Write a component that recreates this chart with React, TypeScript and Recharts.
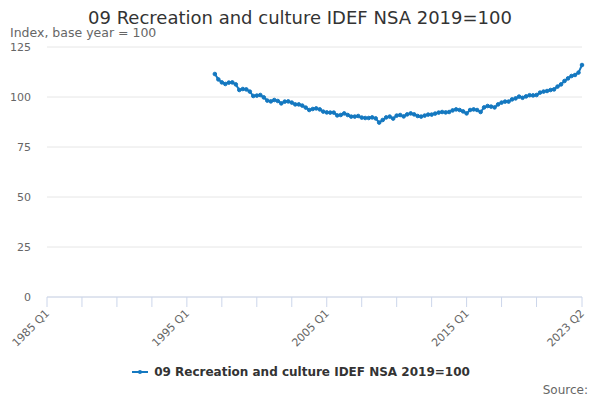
import React from 'react';
import { LineChart, Line, XAxis, YAxis, CartesianGrid } from 'recharts';

const FIRST_YEAR = 1985;
const LAST_YEAR = 2023;
const LAST_QUARTER = 2;

// quarter labels, 1985 Q1 .. 2023 Q2
const quarters: string[] = [];
for (let y = FIRST_YEAR; y <= LAST_YEAR; y++) {
  for (let q = 1; q <= 4; q++) {
    if (y === LAST_YEAR && q > LAST_QUARTER) break;
    quarters.push(`${y} Q${q}`);
  }
}

// series starts at 1997 Q1
const seriesStart = '1997 Q1';
const indexValues = [
  111.5, 108.8, 107.3, 106.5,
  107.2, 107.3, 106.3, 103.5,
  104.0, 103.8, 102.7, 100.5,
  100.7, 101.0, 99.8, 98.2,
  97.8, 98.5, 98.0, 96.8,
  97.7, 97.8, 97.2, 96.3,
  96.3, 95.7, 94.7, 93.5,
  94.0, 94.3, 93.8, 92.7,
  92.3, 92.2, 92.2, 90.8,
  91.0, 91.8, 91.0, 90.2,
  90.2, 90.5, 89.7, 89.5,
  89.5, 89.8, 89.3, 87.2,
  88.5, 89.8, 90.2, 89.2,
  90.7, 91.0, 90.3, 91.3,
  91.8, 91.3, 90.5, 90.2,
  90.7, 91.2, 91.2, 91.7,
  92.2, 92.5, 92.3, 92.5,
  93.3, 93.8, 93.5, 92.8,
  91.8, 93.5, 93.8, 93.5,
  92.5, 94.8, 95.5, 95.2,
  94.8, 96.3, 97.2, 97.7,
  97.7, 98.8, 99.3, 100.2,
  99.6, 100.3, 100.9, 100.8,
  101.0, 102.2, 102.7, 103.0,
  103.5, 103.8, 105.2, 106.3,
  108.0, 109.3, 110.5, 111.0,
  112.2, 116.0,
];

const yTicks = [0, 25, 50, 75, 100, 125];
const labelledQuarters = ['1985 Q1', '1995 Q1', '2005 Q1', '2015 Q1', '2023 Q2'];
const tickQuarters = [
  '1985 Q1', '1987 Q3', '1990 Q1', '1992 Q3', '1995 Q1', '1997 Q3', '2000 Q1', '2002 Q3',
  '2005 Q1', '2007 Q3', '2010 Q1', '2012 Q3', '2015 Q1', '2017 Q3', '2020 Q1', '2023 Q2',
];

const startIdx = quarters.indexOf(seriesStart);
const data = quarters.map((label, i) => ({
  i,
  label,
  value: i >= startIdx ? indexValues[i - startIdx] ?? null : null,
}));

const LINE = '#1478c0';
const FONT = '"DejaVu Sans", sans-serif';
const TITLE = '09 Recreation and culture IDEF NSA 2019=100';

function XTick({ x, y, payload }: any) {
  const label = quarters[payload.value];
  if (!labelledQuarters.includes(label)) return null;
  const ax = x + 3;
  const ay = y + 5;
  return (
    <text
      x={ax}
      y={ay}
      transform={`rotate(-45, ${ax}, ${ay})`}
      textAnchor="end"
      fill="#666"
      fontSize={11}
      fontFamily={FONT}
    >
      {label}
    </text>
  );
}

export default function App() {
  return (
    <div style={{ position: 'absolute', left: 0, top: 0, width: 600, height: 400, background: '#fff', fontFamily: FONT }}>
      <div style={{ position: 'absolute', top: 9, left: 0, width: 600, textAlign: 'center', fontSize: 18, lineHeight: '18px', color: '#333' }}>
        {TITLE}
      </div>
      <div style={{ position: 'absolute', top: 27, left: 10, fontSize: 12.5, lineHeight: '12.5px', color: '#666' }}>
        Index, base year = 100
      </div>

      <LineChart
        width={600}
        height={400}
        data={data}
        margin={{ top: 47, right: 18, bottom: 43, left: 0 }}
      >
        <CartesianGrid vertical={false} stroke="#e6e6e6" />
        <XAxis
          type="number"
          dataKey="i"
          domain={[0, quarters.length - 1]}
          ticks={tickQuarters.map((q) => quarters.indexOf(q))}
          interval={0}
          stroke="#ccd6eb"
          tickSize={10}
          tick={<XTick />}
          height={60}
        />
        <YAxis
          domain={[0, 125]}
          ticks={yTicks}
          axisLine={false}
          tickLine={false}
          width={47}
          tickMargin={10}
          tick={{ fill: '#666', fontSize: 11, fontFamily: FONT }}
        />
        <Line
          dataKey="value"
          stroke={LINE}
          strokeWidth={2}
          dot={{ r: 1.8, fill: LINE, stroke: LINE, strokeWidth: 1 }}
          isAnimationActive={false}
        />
      </LineChart>

      <div style={{ position: 'absolute', top: 365, left: 0, width: 600, display: 'flex', justifyContent: 'center', alignItems: 'center' }}>
        <svg width={20} height={12} style={{ marginRight: 4 }}>
          <line x1={2} y1={6} x2={18} y2={6} stroke={LINE} strokeWidth={2} />
          <circle cx={10} cy={6} r={2} fill={LINE} />
        </svg>
        <span style={{ fontSize: 12, fontWeight: 'bold', color: '#333' }}>{TITLE}</span>
      </div>
      <div style={{ position: 'absolute', top: 383, right: 12, fontSize: 12, color: '#666' }}>
        Source:
      </div>
    </div>
  );
}
